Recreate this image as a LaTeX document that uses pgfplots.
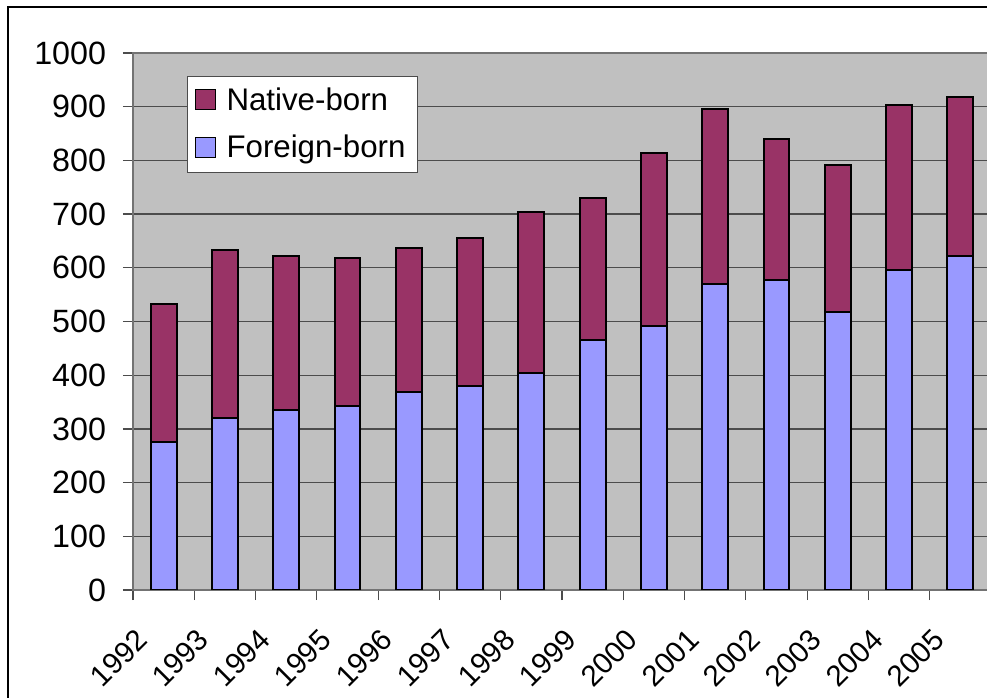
\documentclass[border=0pt]{standalone}
\usepackage{fontspec}
\setmainfont{Liberation Sans}
\usepackage{pgfplots}
\pgfplotsset{compat=1.18}
\definecolor{native}{HTML}{993366}
\definecolor{foreign}{HTML}{9999FF}
\definecolor{plotbg}{HTML}{C0C0C0}
\begin{document}
\begin{tikzpicture}
\useasboundingbox (0pt,0pt) rectangle (394.8pt,279.2pt);
\clip (0pt,0pt) rectangle (394.8pt,279.2pt);
\fill[white] (0pt,0pt) rectangle (394.8pt,279.2pt);
\begin{axis}[
  at={(53.2pt,43.2pt)}, anchor=south west,
  scale only axis, width=343.2pt, height=214.8pt,
  xmin=0, xmax=14, ymin=0, ymax=1000,
  axis background/.style={fill=plotbg},
  ybar stacked, bar width=0.42,
  xtick={0,1,...,14},
  xticklabels={1992,1993,1994,1995,1996,1997,1998,1999,2000,2001,2002,2003,2004,2005,{}},
  ytick={0,100,...,1000},
  ymajorgrids, major grid style={draw=black!70, line width=0.5pt},
  tick align=outside, major tick length=4pt,
  tick style={draw=black!70, line width=0.5pt},
  axis line style={draw=black!55, line width=0.5pt},
  xtick pos=left, ytick pos=left,
  yticklabel style={font=\fontsize{12.9}{15}\selectfont, anchor=east, inner sep=0pt, xshift=-6.6pt},
  xticklabel style={font=\fontsize{11.8}{14}\selectfont, inner sep=0pt, xshift=3.8pt, yshift=-13.8pt, rotate=45, anchor=east},
  /pgf/number format/assume math mode=true,
  /pgf/number format/1000 sep={},
  legend style={at={(0.063,0.957)}, anchor=north west, draw=black!70, line width=0.4pt,
    fill=white, font=\fontsize{12.5}{15}\selectfont, row sep=4.4pt, inner xsep=3pt, inner ysep=2.4pt,
    column sep=2.2pt, cells={anchor=west}},
  reverse legend,
  legend image code/.code={\draw[#1, draw=black, line width=0.4pt] (0pt,-3.6pt) rectangle (8pt,4.4pt);},
]
\addplot[fill=foreign, draw=black, line width=0.8pt] coordinates {
  (0.5,276) (1.5,320) (2.5,335) (3.5,343) (4.5,368) (5.5,380) (6.5,405)
  (7.5,466) (8.5,492) (9.5,570) (10.5,577) (11.5,518) (12.5,596) (13.5,622)};
\addlegendentry{Foreign-born}
\addplot[fill=native, draw=black, line width=0.8pt] coordinates {
  (0.5,257) (1.5,313) (2.5,287) (3.5,275) (4.5,268) (5.5,276) (6.5,299)
  (7.5,264) (8.5,321) (9.5,326) (10.5,263) (11.5,273) (12.5,307) (13.5,296)};
\addlegendentry{Native-born}
\end{axis}
\draw[black, line width=0.8pt] (3.2pt,276.4pt) rectangle (402pt,-4pt);
\end{tikzpicture}
\end{document}
